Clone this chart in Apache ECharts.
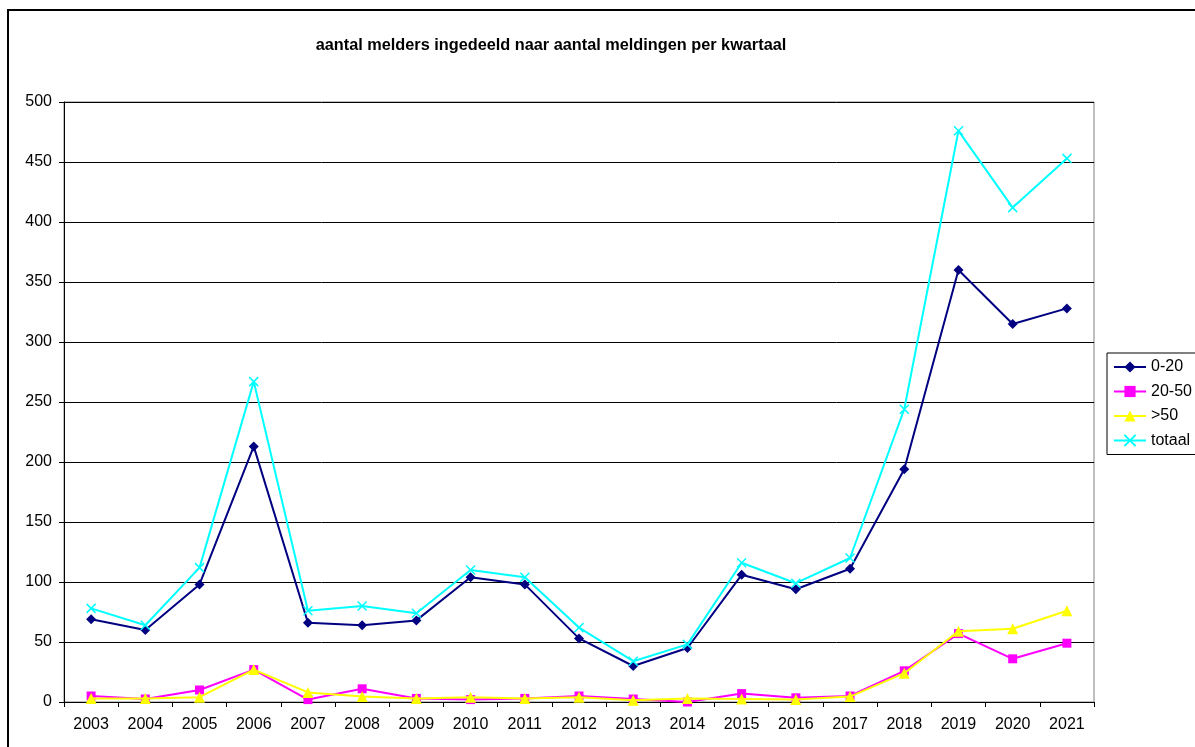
<!DOCTYPE html>
<html>
<head>
<meta charset="utf-8">
<script src="https://cdn.jsdelivr.net/npm/echarts@6/dist/echarts.min.js"></script>
<style>
html,body{margin:0;padding:0;background:#fff;}
#c{width:1195px;height:747px;}
</style>
</head>
<body>
<div id="c"></div>
<script>
const years = ['2003','2004','2005','2006','2007','2008','2009','2010','2011','2012','2013','2014','2015','2016','2017','2018','2019','2020','2021'];
const s0_20 = [69,60,98,213,66,64,68,104,98,53,30,45,106,94,111,194,360,315,328];
const s20_50 = [5,2.5,10,27,2,11,3,2,3,5,2.5,0,7,3.5,5,26,57,36,49];
const s50 = [3,3,4,27,8,4.5,3,4,3,4,1.5,3,2.5,2,4.5,24,59,61,76];
const totaal = [78,64,112,267,76,80,74,110,104,62,34,48,116,99,120,244,476,412,453];
const yTicks = {min:0, max:500, interval:50};

const font = '"Liberation Sans", Arial, sans-serif';
const chart = echarts.init(document.getElementById('c'));
const xSym = 'path://M0,0L10,10M10,0L0,10';
chart.setOption({
  animation:false,
  backgroundColor:'#fff',
  textStyle:{fontFamily:font},
  title:{
    text:'aantal melders ingedeeld naar aantal meldingen per kwartaal',
    left:546, top:33, textAlign:'center',
    textStyle:{fontFamily:font, fontSize:16.3, fontWeight:'bold', color:'#000'}
  },
  graphic:[{
    type:'rect', shape:{x:8, y:10, width:1300, height:900},
    style:{fill:'none', stroke:'#000', lineWidth:2}, silent:true, z:-1
  }],
  grid:{left:64, right:101, top:102, bottom:45, show:true, borderColor:'#808080', borderWidth:1, backgroundColor:'transparent'},
  legend:{
    orient:'vertical', left:1107, top:353,
    padding:[5,60,5,6], itemGap:6.5, itemWidth:32, itemHeight:14,
    borderColor:'#000', borderWidth:1, backgroundColor:'#fff',
    textStyle:{fontFamily:font, fontSize:16, color:'#000', lineHeight:18},
    data:['0-20','20-50','>50','totaal']
  },
  xAxis:{
    type:'category', data:years, boundaryGap:true,
    axisLine:{lineStyle:{color:'#000', width:1}},
    axisTick:{show:true, length:5, inside:false, lineStyle:{color:'#000'}},
    axisLabel:{fontFamily:font, fontSize:16, color:'#000', margin:15, interval:0},
    splitLine:{show:false}
  },
  yAxis:{
    type:'value', min:yTicks.min, max:yTicks.max, interval:yTicks.interval,
    axisLine:{show:true, lineStyle:{color:'#000', width:1}},
    axisTick:{show:true, length:5, lineStyle:{color:'#000'}},
    axisLabel:{fontFamily:font, fontSize:16, color:'#000', margin:12},
    splitLine:{show:true, lineStyle:{color:'#000', width:1}}
  },
  series:[
    {name:'0-20', type:'line', data:s0_20, symbol:'diamond', symbolSize:10,
      lineStyle:{color:'#000080', width:2}, itemStyle:{color:'#000080'}, z:3},
    {name:'20-50', type:'line', data:s20_50, symbol:'rect', symbolSize:9,
      lineStyle:{color:'#FF00FF', width:2}, itemStyle:{color:'#FF00FF'}, z:4},
    {name:'>50', type:'line', data:s50, symbol:'triangle', symbolSize:11,
      lineStyle:{color:'#FFFF00', width:2}, itemStyle:{color:'#FFFF00'}, z:5},
    {name:'totaal', type:'line', data:totaal, symbol:xSym, symbolSize:9,
      lineStyle:{color:'#00FFFF', width:2},
      itemStyle:{color:'rgba(0,0,0,0)', borderColor:'#00FFFF', borderWidth:1.5}, z:6}
  ]
});
</script>
</body>
</html>
